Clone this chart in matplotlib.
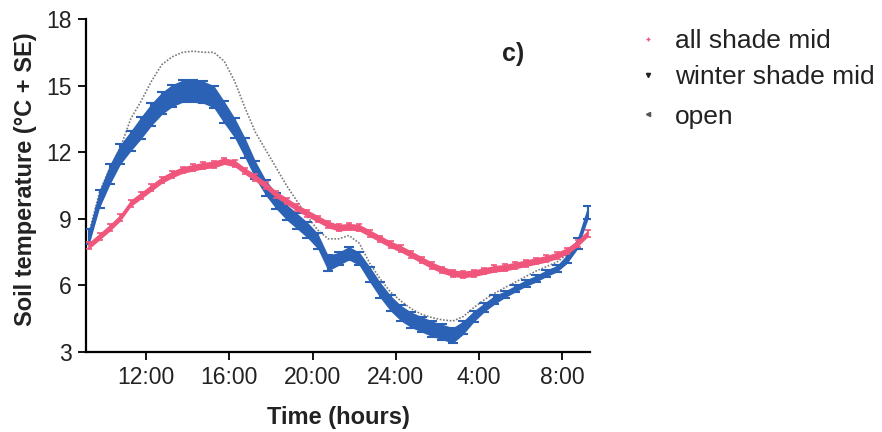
import numpy as np
import matplotlib
matplotlib.use("Agg")
import matplotlib.pyplot as plt

plt.rcParams['font.family'] = ['Liberation Sans', 'DejaVu Sans']

# half-hourly readings, hours since midnight of day 1 (24+ = next day)
hours = np.arange(9.25, 33.3, 0.5)

all_shade = [7.8, 8.2, 8.6, 9.05, 9.7, 10.05, 10.4, 10.75, 11.0, 11.2,
             11.3, 11.4, 11.45, 11.6, 11.5, 11.15, 10.85, 10.5, 10.1, 9.8,
             9.5, 9.25, 9.0, 8.75, 8.6, 8.65, 8.6, 8.35, 8.1, 7.85,
             7.65, 7.4, 7.15, 6.9, 6.7, 6.55, 6.5, 6.55, 6.65, 6.75,
             6.8, 6.9, 7.0, 7.1, 7.2, 7.35, 7.55, 7.9, 8.35]
all_shade_se = [0.15] * len(all_shade)

winter_shade = [8.2, 9.9, 11.0, 11.9, 12.5, 13.1, 13.7, 14.2, 14.55, 14.75,
                14.75, 14.7, 14.5, 13.8, 13.1, 12.2, 11.2, 10.4, 9.8, 9.3,
                8.9, 8.5, 8.0, 7.0, 7.2, 7.45, 7.2, 6.5, 5.8, 5.2,
                4.75, 4.45, 4.25, 4.05, 3.9, 3.75, 4.1, 4.6, 5.0, 5.35,
                5.6, 5.85, 6.1, 6.3, 6.55, 6.75, 7.2, 7.9, 9.3]
winter_shade_se = [0.35, 0.4, 0.45, 0.45, 0.45, 0.5, 0.5, 0.5, 0.5, 0.5,
                   0.5, 0.5, 0.5, 0.5, 0.45, 0.45, 0.4, 0.35, 0.35, 0.35,
                   0.35, 0.35, 0.35, 0.35, 0.3, 0.3, 0.3, 0.35, 0.35, 0.35,
                   0.35, 0.35, 0.35, 0.35, 0.35, 0.35, 0.3, 0.25, 0.2, 0.2,
                   0.15, 0.15, 0.15, 0.15, 0.15, 0.15, 0.2, 0.25, 0.3]

open_site = [8.4, 10.2, 11.3, 12.2, 13.5, 14.3, 15.2, 15.95, 16.3, 16.5,
             16.55, 16.5, 16.5, 16.1, 15.2, 14.0, 12.9, 12.1, 11.3, 10.5,
             9.8, 9.1, 8.5, 8.1, 8.1, 8.25, 7.9, 7.0, 6.3, 5.7,
             5.3, 4.95, 4.7, 4.55, 4.45, 4.4, 4.6, 5.0, 5.35, 5.65,
             5.9, 6.15, 6.4, 6.65, 6.85, 7.05, 7.4, 8.0, 9.0]

xticks = [12, 16, 20, 24, 28, 32]
xticklabels = ['12:00', '16:00', '20:00', '24:00', '4:00', '8:00']
yticks = [3, 6, 9, 12, 15, 18]

legend_labels = ['all shade mid', 'winter shade mid', 'open']

pink = '#f0557c'
blue = '#2b62b6'
grey = '#7a7a7a'

fig = plt.figure(figsize=(8.82, 4.32), dpi=100)
ax = fig.add_axes([0.0975, 0.185, 0.5715, 0.771])

a = np.array(all_shade); ase = np.array(all_shade_se)
w = np.array(winter_shade); wse = np.array(winter_shade_se)

ax.plot(hours, open_site, color=grey, lw=1.2, ls=(0, (1, 1)), zorder=2)

ax.fill_between(hours, w - wse, w + wse, color=blue, lw=0, zorder=3)
ax.errorbar(hours, w, yerr=wse, fmt='none', ecolor=blue, elinewidth=1.5,
            capsize=3.5, capthick=1.5, zorder=3)

ax.fill_between(hours, a - ase, a + ase, color=pink, lw=0, zorder=4)
ax.errorbar(hours, a, yerr=ase, fmt='none', ecolor=pink, elinewidth=1.2,
            capsize=2, capthick=1.2, zorder=4)

ax.set_xlim(9.1, 33.35)
ax.set_ylim(3, 18)
ax.set_xticks(xticks)
ax.set_xticklabels(xticklabels)
ax.set_yticks(yticks)
ax.tick_params(labelsize=16.5, length=6, width=1.3, direction='out', pad=4,
               labelcolor='#222222')
for s in ['top', 'right']:
    ax.spines[s].set_visible(False)
for s in ['left', 'bottom']:
    ax.spines[s].set_linewidth(1.6)

ax.set_xlabel('Time (hours)', fontsize=17, fontweight='bold', labelpad=12,
              color='#222222')
ax.set_ylabel('Soil temperature (°C + SE)', fontsize=17, fontweight='bold',
              color='#222222')
ax.yaxis.set_label_coords(-0.097, 0.52)
ax.text(0.825, 0.875, 'c)', transform=ax.transAxes, fontsize=18,
        fontweight='bold', color='#222222')

# legend drawn as separate marker + text entries
legend_markers = ['+', 'v', '<']
legend_colors = [pink, '#222222', '#555555']
legend_y = [0.905, 0.822, 0.73]
for lab, mk, col, yy in zip(legend_labels, legend_markers, legend_colors, legend_y):
    fig.add_artist(plt.Line2D([0.735], [yy + 0.005], marker=mk, color=col,
                              markersize=3, lw=0, transform=fig.transFigure))
    fig.text(0.765, yy, lab, fontsize=19, va='center', color='#222222')

fig.savefig('out.png', dpi=100)
